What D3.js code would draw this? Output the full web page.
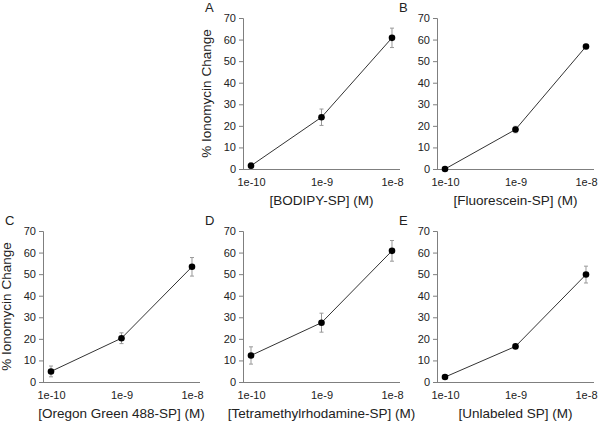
<!DOCTYPE html>
<html><head><meta charset="utf-8">
<script src="https://cdn.jsdelivr.net/npm/d3@7"></script>
<style>body{margin:0;background:#fff}text{font-family:"Liberation Sans",Arial,sans-serif}</style>
</head><body><svg id="c" width="600" height="424"></svg>
<script>
const categories = ["1e-10", "1e-9", "1e-8"];
const yTicks = [0, 10, 20, 30, 40, 50, 60, 70];
const panelLetters = ["A", "B", "C", "D", "E"];
const panelTitles = ["[BODIPY-SP] (M)", "[Fluorescein-SP] (M)", "[Oregon Green 488-SP] (M)", "[Tetramethylrhodamine-SP] (M)", "[Unlabeled SP] (M)"];
const valuesA = [1.5, 24.0, 60.8];
const errorsA = [1.4, 3.8, 4.5];
const valuesB = [0.0, 18.3, 56.8];
const errorsB = [0.3, 1.5, 1.0];
const valuesC = [4.9, 20.3, 53.4];
const errorsC = [2.5, 2.5, 4.3];
const valuesD = [12.3, 27.5, 60.8];
const errorsD = [4.0, 4.4, 4.8];
const valuesE = [2.3, 16.5, 49.8];
const errorsE = [0.5, 0.6, 3.9];
const yLabel = "% Ionomycin Change";

const panels = [
  {v: valuesA, e: errorsA, x0: 243, top: 18, bottom: 169, ylab: true},
  {v: valuesB, e: errorsB, x0: 437, top: 18, bottom: 169, ylab: false},
  {v: valuesC, e: errorsC, x0: 43, top: 231, bottom: 382, ylab: true},
  {v: valuesD, e: errorsD, x0: 243, top: 231, bottom: 382, ylab: false},
  {v: valuesE, e: errorsE, x0: 437, top: 231, bottom: 382, ylab: false}
];

const svg = d3.select("#c");
const axisColor = "#7f7f7f";
const textColor = "#222";

panels.forEach((p, i) => {
  const g = svg.append("g");
  const x = d3.scalePoint().domain(categories).range([p.x0, p.x0 + 157]).padding(0.1135);
  const y = d3.scaleLinear().domain([0, 70]).range([p.bottom, p.top]);

  const ya = g.append("g").attr("transform", `translate(${p.x0},0)`)
    .call(d3.axisLeft(y).tickValues(yTicks).tickSize(4).tickPadding(3));
  ya.select(".domain").attr("stroke", axisColor);
  ya.selectAll(".tick line").attr("stroke", axisColor);
  ya.selectAll("text").attr("fill", textColor).style("font-size", "11px");

  const xa = g.append("g").attr("transform", `translate(0,${p.bottom})`)
    .call(d3.axisBottom(x).tickSize(0).tickPadding(9));
  xa.select(".domain").attr("stroke", axisColor).attr("d", `M${p.x0},0.5H${p.x0 + 157}`);
  xa.selectAll("text").attr("fill", textColor).style("font-size", "11px");

  // error bars
  const eb = g.append("g").attr("stroke", "#999").attr("stroke-width", 1);
  categories.forEach((c, k) => {
    const cx = x(c), hi = y(p.v[k] + p.e[k]), lo = y(p.v[k] - p.e[k]);
    eb.append("line").attr("x1", cx).attr("x2", cx).attr("y1", hi).attr("y2", lo);
    eb.append("line").attr("x1", cx - 2).attr("x2", cx + 2).attr("y1", hi).attr("y2", hi);
    eb.append("line").attr("x1", cx - 2).attr("x2", cx + 2).attr("y1", lo).attr("y2", lo);
  });

  const line = d3.line().x((d, k) => x(categories[k])).y(d => y(d));
  g.append("path").datum(p.v).attr("d", line).attr("fill", "none").attr("stroke", "#333").attr("stroke-width", 1);

  g.selectAll("circle").data(p.v).join("circle")
    .attr("cx", (d, k) => x(categories[k])).attr("cy", d => y(d)).attr("r", 3.3).attr("fill", "#000");

  g.append("text").attr("x", (x(categories[0]) + x(categories[2])) / 2).attr("y", p.bottom + 36)
    .attr("text-anchor", "middle").attr("fill", textColor).style("font-size", "13.5px").text(panelTitles[i]);

  g.append("text").attr("x", p.x0 - 38).attr("y", p.top - 6)
    .attr("fill", textColor).style("font-size", "13px").text(panelLetters[i]);

  if (p.ylab) {
    g.append("text").attr("transform", `translate(${p.x0 - 32},${(p.top + p.bottom) / 2}) rotate(-90)`)
      .attr("text-anchor", "middle").attr("fill", textColor).style("font-size", "13.5px").text(yLabel);
  }
});
</script></body></html>
